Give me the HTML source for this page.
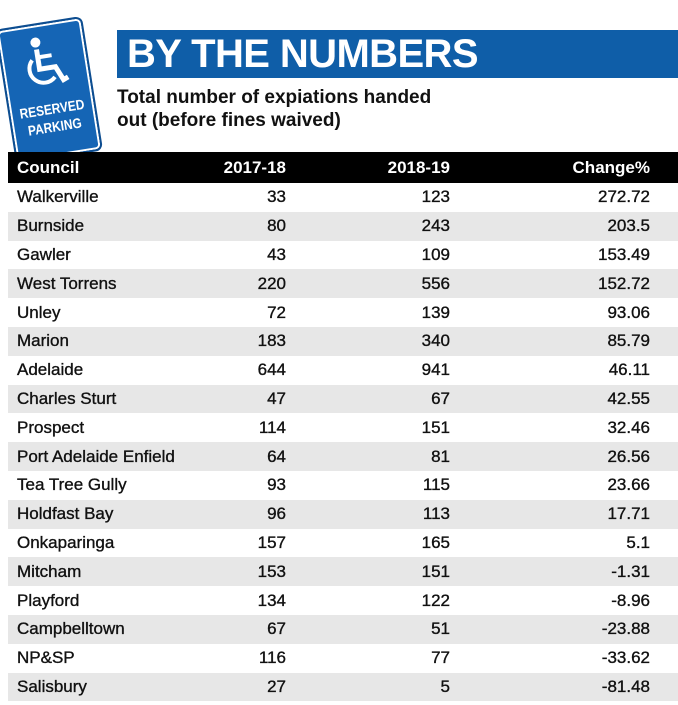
<!DOCTYPE html>
<html><head><meta charset="utf-8"><style>
body{margin:0;width:678px;height:705px;background:#fff;position:relative;overflow:hidden;font-family:"Liberation Sans",Arial,sans-serif;}
.banner{position:absolute;left:117px;top:30px;width:561px;height:48px;background:#0f5ea8;}
.banner span{position:absolute;left:10px;top:2px;color:#fff;font-weight:bold;font-size:40px;letter-spacing:-0.6px;}
.sub{position:absolute;left:117px;top:86px;font-size:19px;font-weight:bold;line-height:23px;color:#111;}
.sign{position:absolute;left:5px;top:22px;width:84px;height:132px;background:#1565b5;border:2px solid #0d4d90;border-radius:7px;transform:rotate(-9deg);box-shadow:inset 0 0 0 2px #fff, inset 0 0 0 3px #1565b5;}
.sign .t{position:absolute;left:0;width:84px;top:76px;text-align:center;color:#fff;font-weight:bold;font-size:14px;line-height:18px;transform:scaleX(0.85);}
table{position:absolute;left:8px;top:152px;width:670px;border-collapse:collapse;font-size:17px;color:#111;}
td,th{height:28.8px;padding:0;-webkit-text-stroke:0.35px #111;}
th{background:#000;color:#fff;font-weight:bold;height:31px;-webkit-text-stroke:0;text-align:right;}
tr:nth-child(odd) td{background:#e7e7e7;}
td:nth-child(1),th:nth-child(1){text-align:left;padding-left:9px;width:200px;}
td:nth-child(2),th:nth-child(2){text-align:right;width:69px;}
td:nth-child(3),th:nth-child(3){text-align:right;width:164px;}
td:nth-child(4),th:nth-child(4){text-align:right;width:200px;}
td:nth-child(4),th:nth-child(4){padding-right:28px;}
</style></head><body>
<div class="sign">
<svg width="84" height="80" viewBox="0 0 84 80" style="position:absolute;left:0;top:0">
<circle cx="36" cy="17" r="5" fill="#fff"/>
<path d="M36 24 L36 44 L52 44 L58 58 L63 56" stroke="#fff" stroke-width="5" fill="none"/>
<path d="M36 32 L50 32" stroke="#fff" stroke-width="4" fill="none"/>
<path d="M30 34 A14 14 0 1 0 50 54" stroke="#fff" stroke-width="4" fill="none"/>
</svg>
<div class="t">RESERVED<br>PARKING</div>
</div>
<div class="banner"><span>BY THE NUMBERS</span></div>
<div class="sub">Total number of expiations handed<br>out (before fines waived)</div>
<table>
<tr><th>Council</th><th>2017-18</th><th>2018-19</th><th>Change%</th></tr>
<tr><td>Walkerville</td><td>33</td><td>123</td><td>272.72</td></tr>
<tr><td>Burnside</td><td>80</td><td>243</td><td>203.5</td></tr>
<tr><td>Gawler</td><td>43</td><td>109</td><td>153.49</td></tr>
<tr><td>West Torrens</td><td>220</td><td>556</td><td>152.72</td></tr>
<tr><td>Unley</td><td>72</td><td>139</td><td>93.06</td></tr>
<tr><td>Marion</td><td>183</td><td>340</td><td>85.79</td></tr>
<tr><td>Adelaide</td><td>644</td><td>941</td><td>46.11</td></tr>
<tr><td>Charles Sturt</td><td>47</td><td>67</td><td>42.55</td></tr>
<tr><td>Prospect</td><td>114</td><td>151</td><td>32.46</td></tr>
<tr><td>Port Adelaide Enfield</td><td>64</td><td>81</td><td>26.56</td></tr>
<tr><td>Tea Tree Gully</td><td>93</td><td>115</td><td>23.66</td></tr>
<tr><td>Holdfast Bay</td><td>96</td><td>113</td><td>17.71</td></tr>
<tr><td>Onkaparinga</td><td>157</td><td>165</td><td>5.1</td></tr>
<tr><td>Mitcham</td><td>153</td><td>151</td><td>-1.31</td></tr>
<tr><td>Playford</td><td>134</td><td>122</td><td>-8.96</td></tr>
<tr><td>Campbelltown</td><td>67</td><td>51</td><td>-23.88</td></tr>
<tr><td>NP&amp;SP</td><td>116</td><td>77</td><td>-33.62</td></tr>
<tr><td>Salisbury</td><td>27</td><td>5</td><td>-81.48</td></tr>
</table>
</body></html>
